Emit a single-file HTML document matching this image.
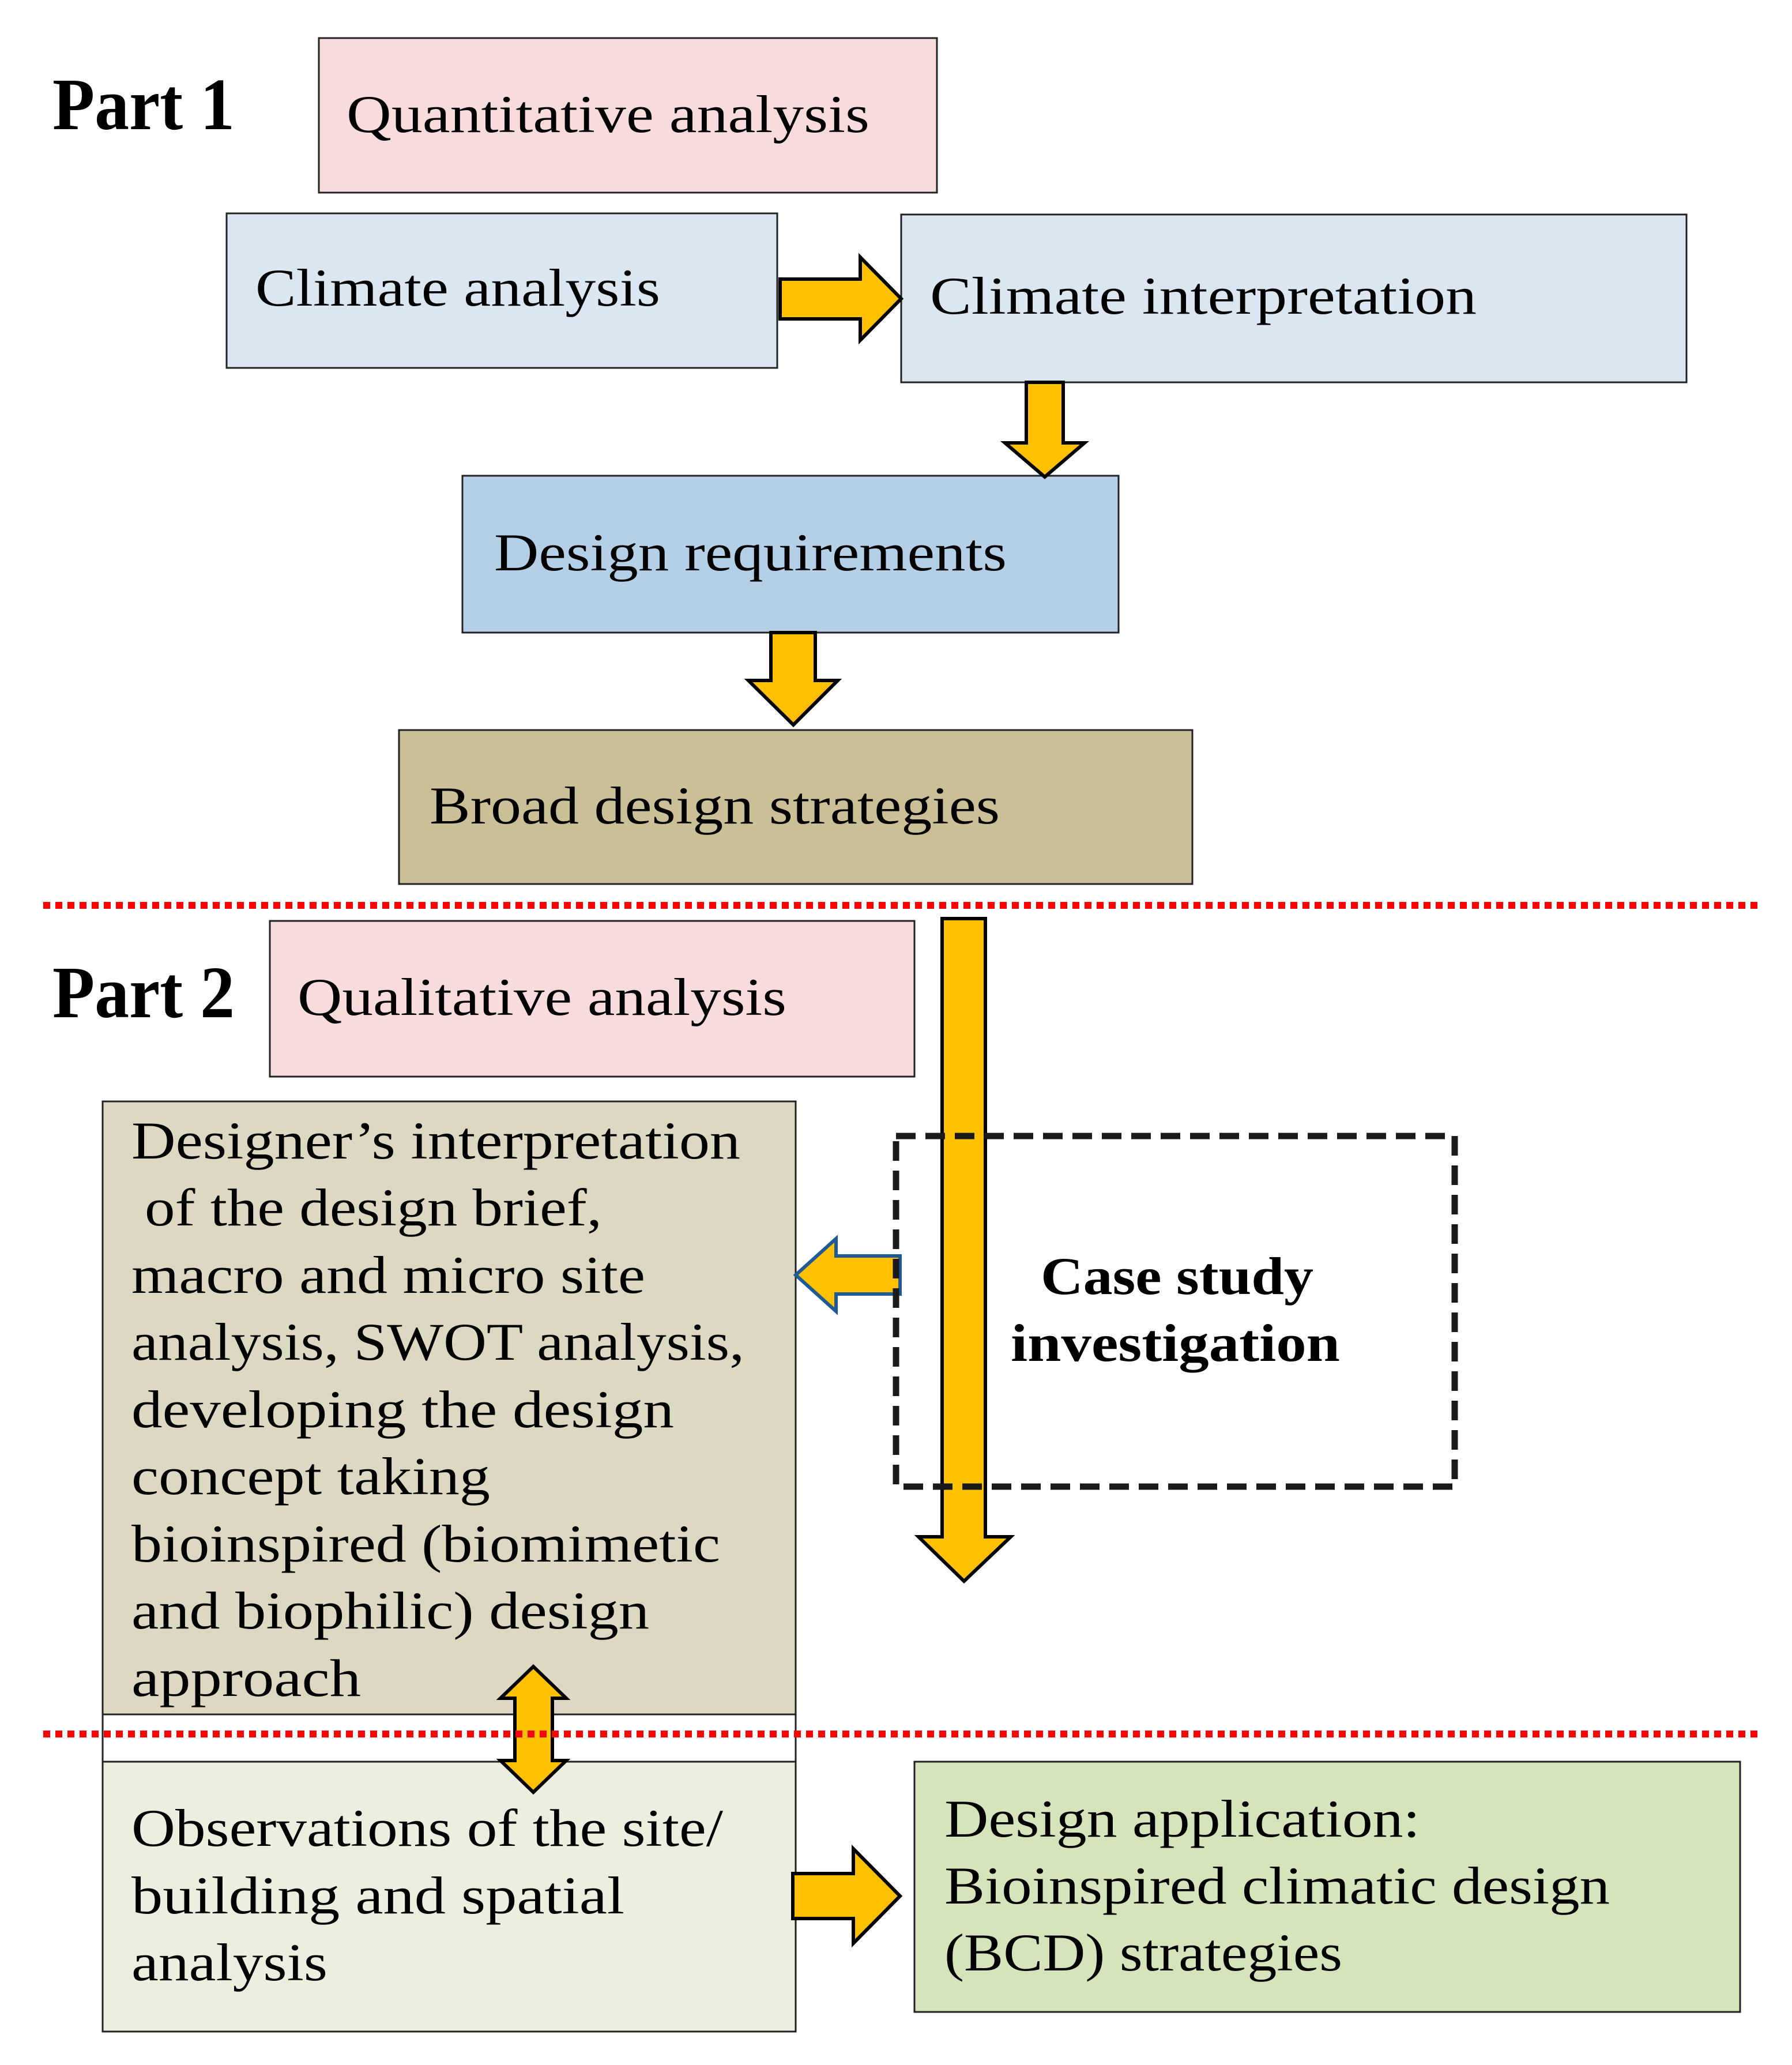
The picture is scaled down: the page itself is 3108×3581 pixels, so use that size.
<!DOCTYPE html>
<html><head><meta charset="utf-8"><style>html,body{margin:0;padding:0;background:#fff}svg{display:block}</style></head>
<body>
<svg width="3108" height="3581" viewBox="0 0 3108 3581" xmlns="http://www.w3.org/2000/svg" font-family="'Liberation Serif', serif" font-size="92" fill="#000">
<g stroke="#222" stroke-width="3">
<rect x="553" y="66" width="1072" height="268" fill="#f8dcdc"/>
<rect x="393" y="370" width="955" height="268" fill="#dce6f1"/>
<rect x="1563" y="372" width="1362" height="291" fill="#dce6f1"/>
<rect x="802" y="825" width="1138" height="272" fill="#b4cfe6"/>
<rect x="692" y="1266" width="1376" height="267" fill="#cbbf98"/>
<rect x="468" y="1597" width="1118" height="270" fill="#f8dcdc"/>
<rect x="178" y="1910" width="1202" height="1063" fill="#ddd8c2"/>
<rect x="178" y="2973" width="1202" height="82" fill="#fff"/>
<rect x="178" y="3055" width="1202" height="468" fill="#ebefdf"/>
<rect x="1586" y="3055" width="1432" height="434" fill="#d6e4bc"/>
</g>
<g fill="#ffc000" stroke="#000" stroke-width="6" stroke-linejoin="miter">
<polygon points="1353,484 1492,484 1492,446 1563,518 1492,590 1492,553 1353,553"/>
<polygon points="1780,663 1844,663 1844,768 1881,768 1812,827 1743,768 1780,768"/>
<polygon points="1337,1097 1414,1097 1414,1180 1453,1180 1376,1257 1298,1180 1337,1180"/>
<polygon points="1634,1593 1709,1593 1709,2665 1753,2665 1672,2742 1593,2665 1634,2665"/>
<polygon points="1375,3249 1480,3249 1480,3206 1561,3288 1480,3370 1480,3327 1375,3327"/>
<polygon points="893,2945 868,2945 925,2890 982,2945 958,2945 958,3053 982,3053 925,3108 868,3053 893,3053"/>
</g>
<polygon points="1561,2178 1450,2178 1450,2148 1380,2211 1450,2274 1450,2244 1561,2244" fill="#ffc000" stroke="#1f5a96" stroke-width="6"/>
<rect x="1554" y="1970" width="969" height="608" fill="none" stroke="#1a1a1a" stroke-width="11" stroke-dasharray="34,17"/>
<g stroke="#f00" stroke-width="12" stroke-dasharray="12,9">
<line x1="75" y1="1570" x2="3053" y2="1570"/>
<line x1="75" y1="3007" x2="3053" y2="3007"/>
</g>
<g font-weight="bold" font-size="128">
<text x="91" y="224" textLength="316" lengthAdjust="spacingAndGlyphs">Part 1</text>
<text x="91" y="1764" textLength="316" lengthAdjust="spacingAndGlyphs">Part 2</text>
</g>
<g lengthAdjust="spacingAndGlyphs">
<text x="601" y="229" textLength="907" lengthAdjust="spacingAndGlyphs">Quantitative analysis</text>
<text x="443" y="530" textLength="702" lengthAdjust="spacingAndGlyphs">Climate analysis</text>
<text x="1613" y="544" textLength="948" lengthAdjust="spacingAndGlyphs">Climate interpretation</text>
<text x="857" y="989" textLength="889" lengthAdjust="spacingAndGlyphs">Design requirements</text>
<text x="745" y="1428" textLength="989" lengthAdjust="spacingAndGlyphs">Broad design strategies</text>
<text x="516" y="1760" textLength="848" lengthAdjust="spacingAndGlyphs">Qualitative analysis</text>
<text x="228" y="2009" textLength="1056" lengthAdjust="spacingAndGlyphs">Designer’s interpretation</text>
<text x="251" y="2125" textLength="793" lengthAdjust="spacingAndGlyphs">of the design brief,</text>
<text x="228" y="2242" textLength="891" lengthAdjust="spacingAndGlyphs">macro and micro site</text>
<text x="228" y="2358" textLength="1063" lengthAdjust="spacingAndGlyphs">analysis, SWOT analysis,</text>
<text x="228" y="2475" textLength="941" lengthAdjust="spacingAndGlyphs">developing the design</text>
<text x="228" y="2591" textLength="622" lengthAdjust="spacingAndGlyphs">concept taking</text>
<text x="228" y="2708" textLength="1021" lengthAdjust="spacingAndGlyphs">bioinspired (biomimetic</text>
<text x="228" y="2824" textLength="898" lengthAdjust="spacingAndGlyphs">and biophilic) design</text>
<text x="228" y="2941" textLength="398" lengthAdjust="spacingAndGlyphs">approach</text>
<text x="1805" y="2244" font-weight="bold" textLength="473" lengthAdjust="spacingAndGlyphs">Case study</text>
<text x="1753" y="2360" font-weight="bold" textLength="571" lengthAdjust="spacingAndGlyphs">investigation</text>
<text x="228" y="3201" textLength="1026" lengthAdjust="spacingAndGlyphs">Observations of the site/</text>
<text x="228" y="3318" textLength="855" lengthAdjust="spacingAndGlyphs">building and spatial</text>
<text x="228" y="3434" textLength="340" lengthAdjust="spacingAndGlyphs">analysis</text>
<text x="1638" y="3185" textLength="825" lengthAdjust="spacingAndGlyphs">Design application:</text>
<text x="1638" y="3301" textLength="1154" lengthAdjust="spacingAndGlyphs">Bioinspired climatic design</text>
<text x="1638" y="3417" textLength="690" lengthAdjust="spacingAndGlyphs">(BCD) strategies</text>
</g>
</svg>
</body></html>
